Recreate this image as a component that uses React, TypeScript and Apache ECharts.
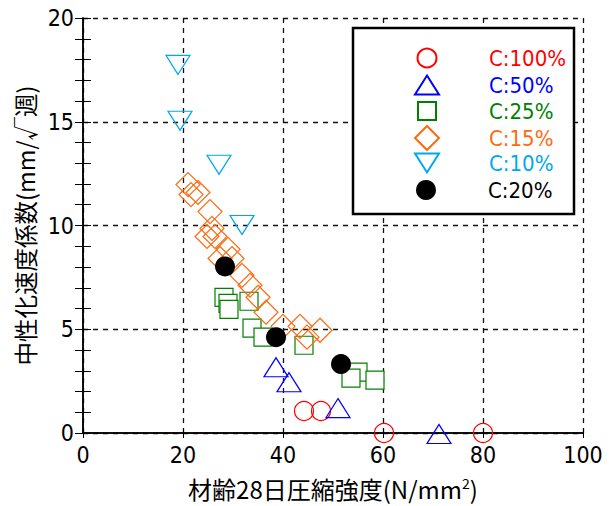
import React, { useEffect, useRef } from "react";
import * as echarts from "echarts";

const seriesNames = ["C:100%", "C:50%", "C:25%", "C:15%", "C:10%", "C:20%"];
const seriesColors = ["#ff0000", "#0000ff", "#008000", "#ff6a10", "#00a8f0", "#000000"];

const xTicks = { min: 0, max: 100, interval: 20 };
const yTicks = { min: 0, max: 20, interval: 5 };

const c100 = [[44.2, 1.06], [47.6, 1.06], [60.2, 0], [80, 0]];
const c50 = [[38.6, 3.17], [41.2, 2.45], [51, 1.2], [71.2, -0.05]];
const c25 = [
  [28.2, 6.54], [29, 6.25], [29.2, 5.96], [33.2, 6.35], [33.8, 5.05], [36, 4.62],
  [44.2, 4.23], [55, 2.93], [53.6, 2.64], [58.4, 2.55],
];
const c15 = [
  [21.0, 11.97], [21.6, 11.49], [23.0, 11.59], [25.4, 10.67], [25.8, 9.86], [24.8, 9.47],
  [26.4, 9.47], [29.0, 8.85], [27.4, 8.41], [29.8, 8.41], [31.8, 7.6], [33.4, 7.12],
  [35.0, 6.54], [36.6, 5.82], [40.0, 5.14], [43.4, 5.14], [44.8, 4.62], [47.4, 4.95],
];
const c10 = [[19, 17.74], [19.4, 15.05], [27.2, 12.93], [31.8, 10.02]];
const c20 = [[28.4, 8.03], [38.6, 4.62], [51.6, 3.32]];

const NUM_FONT = "'Liberation Sans Narrow', 'DejaVu Sans Condensed', 'Liberation Sans', sans-serif";
const CJK_FONT = "'Noto Sans CJK JP', 'Noto Sans', sans-serif";

export default function App() {
  const ref = useRef<HTMLDivElement>(null);
  useEffect(() => {
    if (!ref.current) return;
    const chart = echarts.init(ref.current, undefined, { renderer: "svg" });
    const axisLine = { show: true, lineStyle: { color: "#000", width: 1.5 } };
    const split = { show: true, lineStyle: { color: "#111", type: [5, 5], width: 1.3 } };
    const sym = [
      { data: c100, symbol: "circle", size: [19, 19], rotate: 0, fill: "rgba(0,0,0,0)", icon: "circle" },
      { data: c50, symbol: "triangle", size: [24, 19], rotate: 0, fill: "rgba(0,0,0,0)", icon: "triangle" },
      { data: c25, symbol: "rect", size: [18, 18], rotate: 0, fill: "#fff", icon: "rect" },
      { data: c15, symbol: "diamond", size: [24, 24], rotate: 0, fill: "rgba(0,0,0,0)", icon: "diamond" },
      {
        data: c10, symbol: "triangle", size: [24, 19], rotate: 180, fill: "rgba(0,0,0,0)",
        icon: "path://M0,0L24,0L12,19Z",
      },
      { data: c20, symbol: "circle", size: [20, 20], rotate: 0, fill: "#000", icon: "circle" },
    ];
    const iconCenterX = 426;
    const textLeft = 488;
    const rowY = [58, 85, 111, 137, 163, 190];
    const legends = sym.map((s, i) => ({
      orient: "vertical",
      left: iconCenterX - s.size[0] / 2,
      top: rowY[i] - 12,
      itemWidth: s.size[0],
      itemHeight: s.size[1],
      itemGap: 0,
      z: 10,
      padding: 0,
      selectedMode: false,
      textStyle: {
        fontSize: 22,
        fontFamily: NUM_FONT,
        lineHeight: 24,
        color: seriesColors[i],
        padding: [0, 0, 0, textLeft - (iconCenterX + s.size[0] / 2 + 5)],
      },
      data: [{ name: seriesNames[i], icon: s.icon }],
    }));
    chart.setOption({
      animation: false,
      backgroundColor: "#fff",
      grid: { left: 83, right: 27, top: 18, bottom: 73 },
      xAxis: [
        {
          type: "value",
          position: "bottom",
          min: xTicks.min,
          max: xTicks.max,
          interval: xTicks.interval,
          axisLine,
          axisTick: { show: true, inside: true, length: 5, lineStyle: { color: "#000" } },
          axisLabel: { color: "#000", fontSize: 23, fontFamily: NUM_FONT, margin: 10 },
          splitLine: split,
          name: "材齢28日圧縮強度(N/mm{sup|2})",
          nameLocation: "middle",
          nameGap: 43,
          nameTextStyle: {
            color: "#000",
            fontSize: 24,
            fontFamily: CJK_FONT,
            rich: { sup: { fontSize: 14, fontFamily: CJK_FONT, color: "#000", padding: [0, 0, 10, 0] } },
          },
        },
        {
          type: "value",
          position: "top",
          min: xTicks.min,
          max: xTicks.max,
          interval: xTicks.interval,
          axisLine,
          axisTick: { show: true, inside: true, length: 5, lineStyle: { color: "#000" } },
          axisLabel: { show: false },
          splitLine: { show: false },
        },
      ],
      yAxis: [
        {
          type: "value",
          position: "left",
          min: yTicks.min,
          max: yTicks.max,
          interval: yTicks.interval,
          axisLine,
          axisTick: { show: true, inside: true, length: 8, lineStyle: { color: "#000" } },
          minorTick: { show: true, splitNumber: 5, length: 8, lineStyle: { color: "#000" } },
          axisLabel: { color: "#000", fontSize: 23, fontFamily: NUM_FONT, margin: 9 },
          splitLine: split,
          name: "中性化速度係数(mm/√週)",
          nameLocation: "middle",
          nameGap: 29,
          nameTextStyle: { color: "#000", fontSize: 23.5, fontFamily: CJK_FONT },
        },
        {
          type: "value",
          position: "right",
          min: yTicks.min,
          max: yTicks.max,
          interval: yTicks.interval,
          axisLine,
          axisTick: { show: true, inside: true, length: 8, lineStyle: { color: "#000" } },
          minorTick: { show: true, splitNumber: 5, length: 8, lineStyle: { color: "#000" } },
          axisLabel: { show: false },
          splitLine: { show: false },
        },
      ],
      legend: legends,
      graphic: [
        {
          type: "rect",
          z: 5,
          shape: { x: 353, y: 28, width: 221, height: 186 },
          style: { fill: "#fff", stroke: "#000", lineWidth: 2.5 },
        },
      ],
      series: sym.map((s, i) => ({
        name: seriesNames[i],
        type: "scatter",
        xAxisIndex: 0,
        yAxisIndex: 0,
        clip: false,
        symbol: s.symbol,
        symbolSize: s.size,
        symbolRotate: s.rotate,
        data: s.data,
        itemStyle: {
          color: s.fill,
          opacity: 1,
          borderColor: seriesColors[i],
          borderWidth: i === 5 ? 0 : 1.2,
        },
        emphasis: { disabled: true },
      })),
    });
    return () => chart.dispose();
  }, []);
  return (
    <div
      ref={ref}
      style={{ position: "fixed", left: 0, top: 0, width: 610, height: 506, background: "#fff" }}
    />
  );
}
